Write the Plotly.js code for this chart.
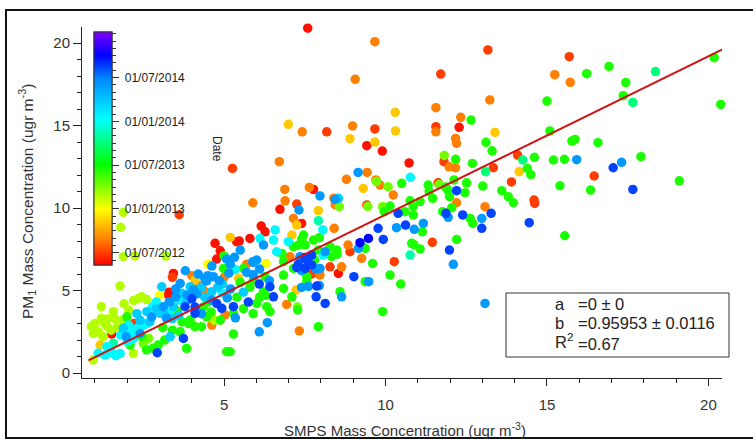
<!DOCTYPE html>
<html><head><meta charset="utf-8">
<script src="https://cdn.plot.ly/plotly-3.0.1.min.js"></script>
<style>html,body{margin:0;padding:0;background:#fff}#chart{width:753px;height:440px}</style>
</head><body><div id="chart"></div>
<script>
// Decimal-year date of each colour group (colour = sampling date)
const dateRed = 2012.40, dateRedOrange = 2012.50, dateOrange = 2012.65, dateGold = 2012.85, dateYellow = 2013.00,
      dateYellowGreen = 2013.15, dateLime = 2013.28, dateGreen = 2013.45, dateSpring = 2013.75, dateAqua = 2013.85,
      dateCyan = 2014.05, dateSky = 2014.22, dateAzure = 2014.42, dateBlue = 2014.62, dateDeepBlue = 2014.74;

const redX = [7.59,12.28,9.42,9.9,10.73,7.77,6.73,7.4,6.15,6.27,8.54,4.72,4.88,4.77,5.39,5.47,5.8,3.43,3.28,3.3,1.52];
const redY = [20.9,14.89,13.78,13.45,12.73,11.13,9.92,9.07,8.91,8.56,6.04,7.86,7.41,6.91,7.96,8.0,8.16,6.04,4.73,4.9,2.36];

const redOrangeX = [13.17,11.71,8.18,9.67,11.56,11.81,13.34,11.63,5.26,3.61,15.69,14.09,13.9,16.46,14.6,14.62,7.25,9.42,11.45,8.9,10.27,7.71,8.28,3.4,2.21];
const redOrangeY = [19.58,18.12,14.62,14.79,14.93,12.81,12.44,11.53,12.4,9.6,19.17,13.21,11.58,11.94,10.48,10.28,10.24,10.18,7.92,7.35,6.75,6.0,6.44,5.8,3.01];

const orangeX = [9.67,13.23,11.56,12.33,7.42,8.98,11.56,12.17,12.2,6.71,11.97,12.17,9.43,8.79,9.7,9.83,6.88,7.64,10.24,8.4,15.24,15.72,13.08,5.89,6.89,7.15,8.41,8.5,8.44,12.2,8.84,9.26,7.33,6.94,7.97,8.64,7.64,7.04,5.7,4.36,4.25,5.03,4.62,4.0,5.0,9.06];
const orangeY = [20.08,16.55,16.08,15.5,14.62,14.97,14.62,14.22,13.92,12.81,12.5,12.44,12.16,11.74,11.7,11.39,11.13,11.25,10.79,10.6,18.08,17.62,10.08,10.32,10.44,9.37,8.77,10.45,10.2,10.32,7.76,6.95,2.55,4.16,5.94,6.44,6.69,7.05,6.6,5.03,5.3,3.52,2.91,5.9,5.8,17.8];

const goldX = [10.3,6.99,10.31,8.9,9.67,13.39,9.31,14.14,7.25,7.92,7.1,7.23,5.19,4.1,1.16,5.45];
const goldY = [15.8,15.07,14.67,14.2,14.0,14.58,11.19,12.2,8.97,9.84,8.36,5.03,8.22,5.64,1.7,5.75];

const yellowX = [6.3,3.0,4.5];
const yellowY = [6.64,4.73,6.6];

const yellowGreenX = [1.88,1.8,1.88,2.24,3.2,4.7,2.45,2.35,2.6,2.2,1.78,1.2,1.57,1.2,1.38,1.6,0.89,1.1,1.38,1.7,2.19,0.95,1.0,1.3,0.95,1.25,1.5,1.85,2.05,1.9,2.1];
const yellowGreenY = [9.74,8.83,7.05,7.09,7.09,3.2,4.62,4.52,4.45,4.4,5.27,4.02,3.72,3.31,3.28,3.31,2.81,2.5,2.81,2.8,1.19,0.79,3.0,3.0,2.4,2.2,2.6,3.2,3.8,4.2,2.55];

const limeX = [11.82,9.72,10.08,11.66,8.57,9.45,9.91,7.27,2.66,2.5];
const limeY = [13.19,11.6,11.29,11.42,10.08,10.1,10.08,4.0,2.1,1.8];

const greenX = [12.65,13.11,13.3,12.17,12.69,10.5,11.32,12.12,12.51,12.46,13.01,13.6,11.86,11.35,16.23,16.92,17.44,17.36,20.18,20.38,
  15.0,15.09,15.77,15.87,16.58,14.61,15.2,15.54,17.91,14.39,14.5,19.1,13.8,15.4,16.35,13.96,15.55,7.46,10.14,9.96,
  10.76,10.86,10.6,10.86,11.07,11.46,11.93,11.98,12.05,11.77,12.62,12.7,11.14,10.81,10.88,11.07,12.2,9.37,9.6,10.14,
  10.47,9.37,9.91,8.59,7.92,7.28,7.1,7.56,6.84,6.22,6.3,6.01,6.32,6.42,5.91,6.84,7.15,7.56,7.8,8.33,
  8.5,8.49,8.28,7.92,6.84,6.79,7.15,7.3,7.51,7.77,7.95,7.4,6.27,4.98,5.6,5.4,5.29,4.46,4.35,4.5,
  3.55,3.95,3.7,1.99,2.45,2.09,2.8,2.96,3.16,3.64,3.84,4.1,4.3,4.88,5.29,5.08,5.19,6.1,3.9,5.5,
  5.8,5.6,5.9,5.0,2.6,3.4,3.1,4.6];
const greenY = [15.33,13.98,13.47,12.95,12.7,11.5,11.39,11.7,11.53,10.93,11.33,11.05,11.27,11.0,18.14,18.58,17.6,16.81,19.11,16.28,
  16.48,14.67,14.06,14.16,13.96,13.07,12.91,12.95,13.11,12.4,12.02,11.65,10.69,11.35,11.09,10.32,8.32,8.36,10.12,9.78,
  10.44,10.08,9.78,9.58,10.39,10.59,11.09,10.69,10.02,9.78,9.37,9.07,8.56,7.86,7.78,7.52,8.1,7.56,6.64,5.94,
  5.39,5.54,3.72,4.93,2.81,3.82,4.62,5.54,5.13,4.93,4.7,4.22,4.02,3.72,5.64,5.94,6.34,5.84,6.85,7.05,
  7.2,7.45,7.66,7.45,6.75,7.25,7.66,7.75,7.76,8.06,8.2,8.1,5.84,6.34,6.34,4.6,3.62,3.41,4.0,4.3,
  3.75,3.21,3.1,3.41,2.2,1.7,1.5,1.7,2.0,2.5,1.49,2.81,2.81,3.2,2.36,1.29,1.29,4.6,3.0,5.5,
  5.2,3.9,3.6,7.1,1.4,2.6,2.75,3.7];

const springX = [18.36,17.66,14.25,13.1];
const springY = [18.27,16.4,12.91,12.2];

const aquaX = [7.92,10.76,1.57];
const aquaY = [9.23,7.15,1.8];

const cyanX = [10.77,6.58,8.06,8.07,6.99,6.63,6.53,6.11,5.34,3.64,4.95,2.78,2.04,2.14,1.78,1.37,1.32,1.1,1.55,3.3,2.9,2.6,2.5,2.2,2.0,1.8,2.3,1.45,1.65];
const cyanY = [11.86,8.67,8.67,7.15,7.96,7.35,8.06,8.16,6.27,4.42,4.85,4.0,2.91,2.5,1.19,1.6,1.09,1.2,1.2,3.7,4.3,3.0,2.9,2.1,1.9,2.3,2.7,1.35,1.05];

const skyX = [8.54,3.95,3.07,3.69,4.62,3.43,3.02,2.61,1.88,3.33,3.85,4.95,2.3,5.6,2.9,3.15,3.4,3.6,2.4,2.7,3.9,4.3,4.8,4.4];
const skyY = [10.59,5.23,5.23,4.83,4.93,4.02,3.62,3.72,2.71,2.2,4.4,5.4,3.6,4.9,3.9,3.55,3.3,3.5,3.2,3.1,4.6,5.2,5.2,4.6];

const azureX = [9.15,7.97,15.92,17.31,12.98,13.08,7.32,8.44,11.94,10.34,10.89,11.17,12.1,9.16,9.48,8.64,6.09,6.34,7.61,7.95,
  7.4,7.97,7.85,7.4,8.13,7.35,6.22,6.01,5.9,6.4,5.5,5.08,5.32,5.19,5.89,4.62,4.67,4.85,4.46,3.64,
  3.5,3.85,4.15,4.62,5.1,5.35,3.22,2.76,1.97,2.4,3.12,3.5,4.3,4.5,4.2,5.2,3.8,3.3,4.05,4.4,5.15,5.7,5.9,6.1];
const azureY = [12.16,10.73,12.93,12.77,9.37,4.22,9.88,10.52,9.44,8.81,8.71,9.07,6.59,7.56,5.54,4.62,2.5,3.05,5.25,5.3,
  5.19,6.34,6.3,6.2,7.35,7.05,7.76,6.85,6.7,5.6,7.45,6.91,7.01,6.6,6.75,6.48,5.84,5.6,5.58,5.43,
  5.1,4.73,4.8,4.42,4.55,3.35,3.31,3.41,2.2,2.4,4.02,4.6,3.6,5.9,6.0,5.1,6.2,4.3,5.05,5.75,6.05,6.1,5.95,6.3];

const blueX = [12.2,17.05,17.66,13.27,12.98,14.45,10.39,11.87,12.39,10.62,11.98,9.77,9.93,9.02,8.13,7.85,7.87,6.42,6.53,6.09,
  7.51,7.25,7.3,7.56,7.71,7.71,7.5,4.0,4.77,4.93,5.29,4.1,4.1,3.79,2.93,3.74,5.75];
const blueY = [11.05,12.44,11.13,9.68,8.77,9.11,9.68,9.68,9.58,8.97,7.45,8.77,8.1,5.84,4.22,4.62,5.27,5.23,4.62,5.39,
  6.34,6.4,6.6,6.85,6.55,7.15,7.0,4.5,4.22,3.92,4.02,3.62,4.0,4.02,1.23,2.1,4.3];

const deepBlueX = [9.47,9.21];
const deepBlueY = [8.16,7.9];

// Fit result
const fitA = 0, fitB = 0.95953, fitBErr = 0.0116, fitR2 = 0.67;
const fitXRange = [0.8, 20.45];

// Colour bar ticks
const cbTickVals = [2012.5, 2013.0, 2013.5, 2014.0, 2014.5];
const cbTickText = ['01/07/2012', '01/01/2013', '01/07/2013', '01/01/2014', '01/07/2014'];

const groups = [
  [redX, redY, dateRed], [redOrangeX, redOrangeY, dateRedOrange], [orangeX, orangeY, dateOrange],
  [goldX, goldY, dateGold], [yellowX, yellowY, dateYellow], [yellowGreenX, yellowGreenY, dateYellowGreen],
  [limeX, limeY, dateLime], [greenX, greenY, dateGreen], [springX, springY, dateSpring], [aquaX, aquaY, dateAqua],
  [cyanX, cyanY, dateCyan], [skyX, skyY, dateSky], [azureX, azureY, dateAzure], [blueX, blueY, dateBlue],
  [deepBlueX, deepBlueY, dateDeepBlue]
];
const xs = [], ys = [], cs = [];
groups.forEach(([gx, gy, d]) => { gx.forEach((v, i) => { xs.push(v); ys.push(gy[i]); cs.push(d); }); });

// monthly minor ticks on the colour bar
const cbMinorVals = [];
for (let m = 0; m <= 32; m++) cbMinorVals.push(2012 + 5/12 + m/12);

const font = 'Arial, "Liberation Sans", sans-serif';
const cmin = 2012.36, cmax = 2015.02;
const cscale = [[0,'rgb(255,0,0)'],[0.11,'rgb(255,128,0)'],[0.24,'rgb(255,255,0)'],[0.43,'rgb(0,255,0)'],
                [0.625,'rgb(0,255,255)'],[0.8,'rgb(0,135,255)'],[0.9,'rgb(0,0,255)'],[1,'rgb(128,0,255)']];
// plot area: x 82..722 px, y 27..378 px
const pT = 27, pB = 378;
const py = p => (pB - p) / (pB - pT), px = p => (p - 82) / 640;
const cbBase = {
  x: px(94), xanchor: 'left', xpad: 0, ypad: 0,
  y: py(32), yanchor: 'top', len: (265 - 32) / (pB - pT), lenmode: 'fraction',
  thickness: 18, thicknessmode: 'pixels',
  outlinewidth: 1, outlinecolor: '#333', tickwidth: 1, tickcolor: '#333', ticks: 'outside',
  title: {text: ''}
};
const scatter = {
  type: 'scatter', mode: 'markers', x: xs, y: ys, hoverinfo: 'skip', cliponaxis: false,
  marker: {
    size: 9.5, color: cs, cmin: cmin, cmax: cmax, colorscale: cscale, line: {width: 0},
    showscale: true,
    colorbar: Object.assign({}, cbBase, {
      tickmode: 'array', tickvals: cbTickVals, ticktext: cbTickText.map(t => '\u00a0' + t),
      ticklen: 7, tickfont: {family: font, size: 12, color: '#222'}
    })
  }
};
// second (invisible) trace only carries the monthly minor ticks of the colour bar
const minorTicks = {
  type: 'scatter', mode: 'markers', x: [xs[0]], y: [ys[0]], hoverinfo: 'skip',
  marker: {
    size: 1, opacity: 0, color: [cs[0]], cmin: cmin, cmax: cmax, colorscale: cscale, showscale: true,
    colorbar: Object.assign({}, cbBase, {
      tickmode: 'array', tickvals: cbMinorVals, ticklen: 4, showticklabels: false
    })
  }
};
const fitLine = {
  type: 'scatter', mode: 'lines', hoverinfo: 'skip', cliponaxis: false,
  x: fitXRange, y: fitXRange.map(v => fitA + fitB * v),
  line: {color: '#d01414', width: 2}
};

const statFont = {family: font, size: 16.5, color: '#222'};
const layout = {
  width: 753, height: 440, showlegend: false,
  paper_bgcolor: '#fff', plot_bgcolor: '#fff',
  margin: {l: 82, r: 31, t: pT, b: 440 - pB, pad: 0},
  font: {family: font, color: '#222'},
  xaxis: {
    range: [0.6, 20.42], showgrid: false, zeroline: false, showline: true, linecolor: '#222', linewidth: 1,
    tickmode: 'linear', tick0: 0, dtick: 5, ticks: 'outside', ticklen: 7, tickcolor: '#222',
    ticklabelstandoff: 6,
    tickfont: {family: font, size: 15, color: '#333'},
    minor: {dtick: 1, tick0: 0, ticks: 'outside', ticklen: 4, tickcolor: '#222', showgrid: false}
  },
  yaxis: {
    range: [-0.3, 20.97], showgrid: false, zeroline: false, showline: true, linecolor: '#222', linewidth: 1,
    tickmode: 'linear', tick0: 0, dtick: 5, ticks: 'outside', ticklen: 8, tickcolor: '#222',
    tickfont: {family: font, size: 15, color: '#333'},
    minor: {dtick: 1, tick0: 0, ticks: 'outside', ticklen: 4, tickcolor: '#222', showgrid: false}
  },
  shapes: [
    {type: 'rect', xref: 'paper', yref: 'paper', x0: px(6), x1: px(770), y0: py(438), y1: py(10),
     line: {color: '#111', width: 2}, layer: 'above'},
    {type: 'rect', xref: 'paper', yref: 'paper', x0: px(506), x1: px(729), y0: py(357), y1: py(293),
     line: {color: '#333', width: 1}, fillcolor: 'rgba(0,0,0,0)'}
  ],
  annotations: [
    {xref: 'paper', yref: 'paper', x: px(405), y: py(429), xanchor: 'center', yanchor: 'middle', showarrow: false,
     text: 'SMPS Mass Concentration (ugr m<sup>-3</sup>)', font: {family: font, size: 15, color: '#333'}},
    {xref: 'paper', yref: 'paper', x: px(27), y: py(202), xanchor: 'center', yanchor: 'middle', showarrow: false,
     textangle: -90, text: 'PM<sub>1</sub> Mass Concentration (ugr m<sup>-3</sup>)', font: {family: font, size: 15.5, color: '#333'}},
    {xref: 'paper', yref: 'paper', x: px(217), y: py(149), xanchor: 'center', yanchor: 'middle', showarrow: false,
     textangle: 90, text: 'Date', font: {family: font, size: 12, color: '#222'}},
    {xref: 'paper', yref: 'paper', x: px(553), y: py(304), xanchor: 'left', yanchor: 'middle', showarrow: false,
     text: 'a', font: statFont},
    {xref: 'paper', yref: 'paper', x: px(576), y: py(304), xanchor: 'left', yanchor: 'middle', showarrow: false,
     text: '=' + fitA + ' ± 0', font: statFont},
    {xref: 'paper', yref: 'paper', x: px(553), y: py(323), xanchor: 'left', yanchor: 'middle', showarrow: false,
     text: 'b', font: statFont},
    {xref: 'paper', yref: 'paper', x: px(576), y: py(323), xanchor: 'left', yanchor: 'middle', showarrow: false,
     text: '=' + fitB + ' ± ' + fitBErr, font: statFont},
    {xref: 'paper', yref: 'paper', x: px(553), y: py(341), xanchor: 'left', yanchor: 'middle', showarrow: false,
     text: 'R<sup>2</sup>', font: statFont},
    {xref: 'paper', yref: 'paper', x: px(576), y: py(344), xanchor: 'left', yanchor: 'middle', showarrow: false,
     text: '=' + fitR2, font: statFont}
  ]
};
Plotly.newPlot('chart', [scatter, minorTicks, fitLine], layout, {staticPlot: true, displayModeBar: false});
</script>
</body></html>
